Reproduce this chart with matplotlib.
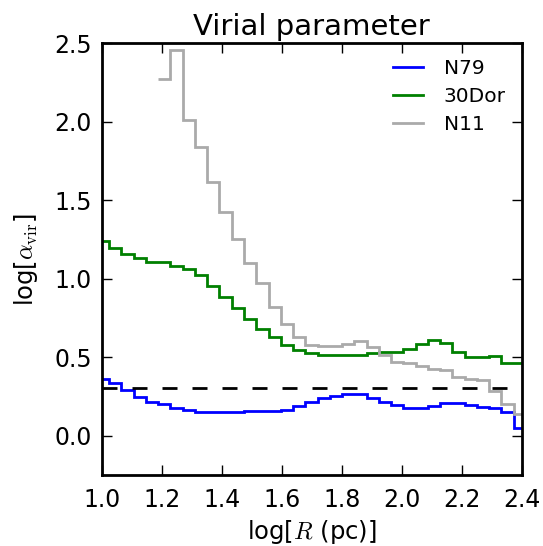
import numpy as np
import matplotlib
matplotlib.use("Agg")
import matplotlib.pyplot as plt

plt.rcParams['mathtext.fontset'] = 'cm'
plt.rcParams['font.family'] = 'DejaVu Sans'

# bin edges in log R (pc), shared by all three regions
logR_edges = np.linspace(0.984, 2.414, 36)

n79 = [0.362, 0.335, 0.292, 0.248, 0.218, 0.205, 0.176, 0.167, 0.148, 0.148,
       0.148, 0.148, 0.155, 0.159, 0.157, 0.163, 0.190, 0.214, 0.240, 0.256,
       0.265, 0.265, 0.240, 0.218, 0.193, 0.178, 0.178, 0.191, 0.211, 0.208,
       0.193, 0.183, 0.174, 0.150, 0.048]
dor30 = [1.241, 1.193, 1.157, 1.130, 1.104, 1.104, 1.079, 1.060, 1.023, 0.956,
         0.882, 0.814, 0.744, 0.678, 0.629, 0.576, 0.549, 0.528, 0.515, 0.513,
         0.513, 0.517, 0.528, 0.532, 0.532, 0.551, 0.587, 0.608, 0.589, 0.534,
         0.502, 0.502, 0.510, 0.463, 0.463]
# N11 starts at the 6th bin
n11_start = 5
n11 = [2.274, 2.458, 2.007, 1.839, 1.617, 1.426, 1.252, 1.098, 0.971, 0.822,
       0.710, 0.627, 0.576, 0.572, 0.570, 0.585, 0.600, 0.568, 0.515, 0.472,
       0.462, 0.445, 0.426, 0.420, 0.373, 0.363, 0.352, 0.282, 0.205, 0.138]

alpha_crit = np.log10(2.0)

fig = plt.figure(figsize=(5.43, 5.46), dpi=100)
ax = fig.add_axes([0.1873, 0.130, 0.7735, 0.7912])

ax.stairs(n79, logR_edges, baseline=None, color='b', lw=2, label='N79')
ax.stairs(dor30, logR_edges, baseline=None, color='g', lw=2, label='30Dor')
ax.stairs(n11, logR_edges[n11_start:], baseline=None, color='#aaaaaa', lw=2,
          label='N11')
ax.axhline(alpha_crit, color='k', lw=2, dashes=(5.4, 5.4))

ax.set_xlim(1.0, 2.4)
ax.set_ylim(-0.25, 2.5)
ax.set_xticks(np.arange(1.0, 2.41, 0.2))
ax.set_yticks(np.arange(0.0, 2.51, 0.5))
ax.xaxis.set_major_formatter(matplotlib.ticker.FormatStrFormatter('%.1f'))
ax.yaxis.set_major_formatter(matplotlib.ticker.FormatStrFormatter('%.1f'))
ax.tick_params(direction='in', top=True, right=True, length=7, width=1,
               labelsize=17)
ax.tick_params(axis='x', pad=9)
ax.tick_params(axis='y', pad=7)
for s in ax.spines.values():
    s.set_linewidth(2)

ax.set_xlabel(r'log[$R$ (pc)]', fontsize=17.5, labelpad=5)
ax.set_ylabel(r'log[$\alpha_{\rm vir}$]', fontsize=17.5, labelpad=10)
ax.set_title('Virial parameter', fontsize=21)

ax.legend(loc='upper right', frameon=False, fontsize=14.5, handlelength=1.5,
          handletextpad=1.0, labelspacing=0.45, borderaxespad=0.4)

fig.savefig('out.png', dpi=100)
